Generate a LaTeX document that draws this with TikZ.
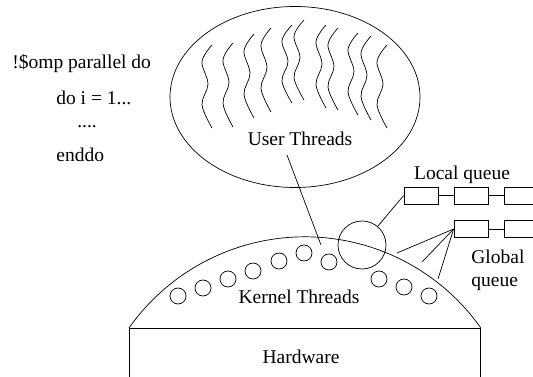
\documentclass[tikz,border=0pt]{standalone}
\usepackage{fontspec}
\setmainfont{Liberation Serif}
\usetikzlibrary{shapes.geometric}

\begin{document}
\begin{tikzpicture}[x=1pt,y=-1pt,line width=0.7pt,
  every node/.style={font=\fontsize{19.5}{23}\selectfont},
  kthread/.style={circle,draw,inner sep=0pt,minimum size=16pt},
  qbox/.style={rectangle,draw,inner sep=0pt,minimum width=34pt,minimum height=17pt}]
\useasboundingbox (0,0) rectangle (533,377);
% code
\node[anchor=base west,inner sep=0pt] (omp) at (12,69) {!\$omp parallel do};
\node[anchor=base west,inner sep=0pt] (doi) at (56,105) {do i = 1...};
\node[anchor=base west,inner sep=0pt] (dots) at (77,128) {....};
\node[anchor=base west,inner sep=0pt] (enddo) at (56,162) {enddo};
% user space
\node[ellipse,draw,minimum width=250pt,minimum height=181pt] (uspace) at (295,97) {};
\foreach \x/\t/\b in {212/45/128,233/43/127,254/34/118,271/28/112,292/25/103,304/20/100,
                      326/25/108,338/28/110,358/33/115,371/36/120,387/45/128}
  \draw plot[smooth,tension=0.6] coordinates {(\x,\t) ({\x-10},{\t+0.2*(\b-\t)})
    ({\x-4},{\t+0.47*(\b-\t)}) ({\x-10},{\t+0.72*(\b-\t)}) (\x,\b)};
\node[anchor=base,inner sep=0pt] (uthr) at (300,146) {User Threads};
% kernel
\draw (129,328) arc[start angle=215.2,end angle=324.7,radius=215.3];
\draw (129,377) -- (129,328) -- (480,328) -- (480,377);
\foreach \x/\y [count=\i] in {178/296,203/288,228/279,253/271,279/261,304/253,
                              329/262,379/279,404/287,429/296}
  \node[kthread] (k\i) at (\x,\y) {};
\node[circle,draw,minimum size=48pt] (lcpu) at (362,245) {};
\node[anchor=base,inner sep=0pt] (kthr) at (299,303) {Kernel Threads};
\node[anchor=base,inner sep=0pt] (hw) at (301,363) {Hardware};
% queues
\node[qbox] (lq1) at (421,195.5) {};
\node[qbox] (lq2) at (471,195.5) {};
\node[qbox] (lq3) at (521,195.5) {};
\node[qbox] (gq1) at (471,229) {};
\node[qbox] (gq2) at (521,229) {};
\draw (lq1) -- (lq2);
\draw (lq2) -- (lq3);
\draw (gq1) -- (gq2);
\node[anchor=base,inner sep=0pt] (lql) at (462,179) {Local queue};
\node[anchor=base west,inner sep=0pt,align=left] (gql) at (471,286) {Global\\queue};
% links
\coordinate (ut) at (287,155);
\coordinate (kt) at (321,245);
\draw (ut) -- (kt);
\draw (lcpu) -- (lq1.west);
\coordinate (g1) at (397,253);
\coordinate (g2) at (422,262);
\coordinate (g3) at (438,279);
\draw (g1) -- (gq1.west);
\draw (g2) -- (gq1.west);
\draw (g3) -- (gq1.west);
\end{tikzpicture}
\end{document}
